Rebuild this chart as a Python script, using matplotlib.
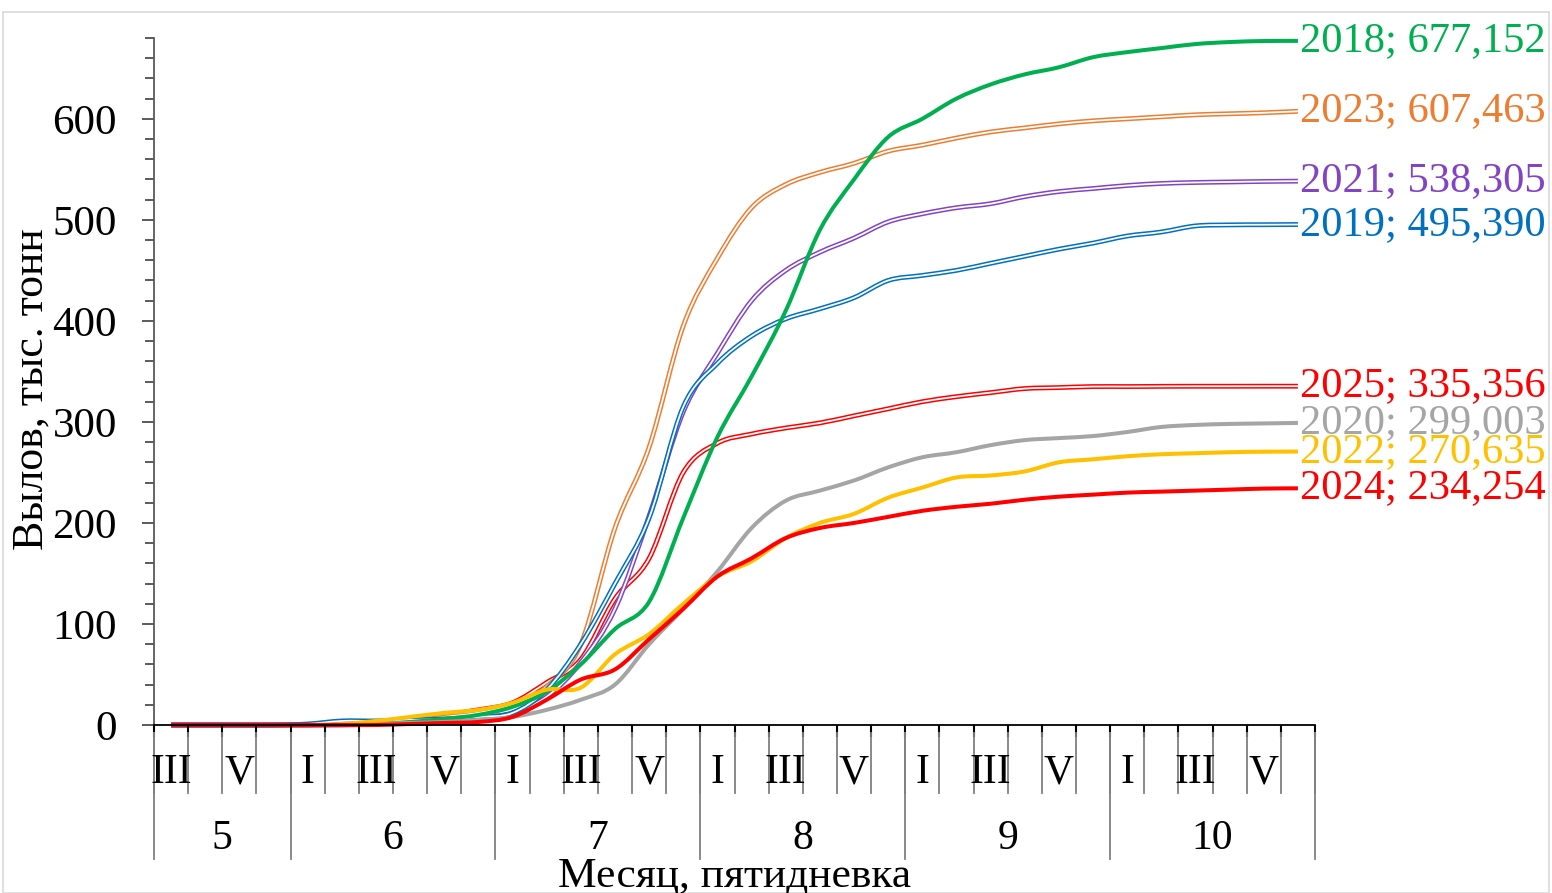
import numpy as np
import matplotlib
matplotlib.use('Agg')
import matplotlib.pyplot as plt
from matplotlib.path import Path
from matplotlib.patches import PathPatch, Rectangle
from matplotlib.transforms import blended_transform_factory, offset_copy

plt.rcParams['font.family'] = ['Liberation Serif', 'DejaVu Serif']

# категории: месяц и пятидневка
months = ['5', '6', '7', '8', '9', '10']
month_sizes = [4, 6, 6, 6, 6, 6]
pentads = ['III', 'IV', 'V', 'VI'] + ['I', 'II', 'III', 'IV', 'V', 'VI'] * 5

# накопленный вылов, тыс. тонн (по пятидневкам)
y2018 = [0, 0, 0, 0, 0, 0, 1, 3, 6, 10, 18, 33, 60, 95, 122, 205, 285, 345, 410, 490,
         540, 582, 600, 620, 634, 644, 651, 661, 666, 670, 674, 676, 677, 677.152]
y2019 = [0, 0, 0, 0, 1, 4, 4, 5, 6, 8, 12, 35, 80, 140, 205, 315, 358, 385, 402, 412,
         423, 440, 445, 450, 457, 464, 471, 477, 484, 488, 494, 495, 495.2, 495.390]
y2020 = [0, 0, 0, 0, 0, 0, 1, 2, 3, 5, 8, 15, 25, 40, 80, 115, 152, 195, 222, 232,
         242, 255, 265, 270, 277, 282, 284, 286, 290, 295, 297, 298, 298.5, 299.003]
y2021 = [0, 0, 0, 0, 0, 0, 1, 2, 4, 7, 12, 28, 62, 115, 207, 310, 368, 420, 450, 468,
         482, 498, 506, 512, 516, 523, 528, 531, 534, 536, 537, 537.5, 538, 538.305]
y2022 = [0, 0, 0, 0, 0, 1, 4, 8, 12, 15, 22, 35, 37, 70, 90, 120, 147, 162, 185, 200,
         209, 225, 235, 245, 247, 251, 260, 263, 266, 268, 269, 270, 270.5, 270.635]
y2023 = [0, 0, 0, 0, 0, 1, 2, 4, 8, 12, 20, 38, 80, 195, 275, 395, 462, 512, 535, 547,
         556, 568, 574, 581, 587, 591, 595, 598, 600, 602, 604, 605, 606, 607.463]
y2024 = [0, 0, 0, 0, 0, 0, 0, 1, 2, 3, 8, 25, 45, 55, 85, 115, 147, 165, 185, 195,
         200, 206, 212, 216, 219, 223, 226, 228, 230, 231, 232, 233, 234, 234.254]
y2025 = [0, 0, 0, 0, 0, 1, 2, 5, 10, 15, 22, 42, 65, 125, 165, 250, 279, 288, 294, 299,
         306, 313, 320, 325, 329, 333, 334, 335, 335, 335.2, 335.3, 335.3, 335.35, 335.356]

years = ['2025', '2023', '2021', '2019', '2018', '2020', '2022', '2024']
values = [y2025, y2023, y2021, y2019, y2018, y2020, y2022, y2024]
colors = ['#FF0000', '#ED7D31', '#8244C4', '#0070C0', '#00B050', '#A5A5A5', '#FFC000', '#FF0000']
double = [True, True, True, True, False, False, False, False]


def smooth_path(xs, ys):
    # сглаживание как в Excel: кривые Безье по соседним точкам
    pts = np.column_stack([xs, ys])
    n = len(pts)
    verts = [pts[0]]
    codes = [Path.MOVETO]
    for i in range(n - 1):
        p0 = pts[max(i - 1, 0)]
        p1 = pts[i]
        p2 = pts[i + 1]
        p3 = pts[min(i + 2, n - 1)]
        c1 = p1 + (p2 - p0) / 6.0
        c2 = p2 - (p3 - p1) / 6.0
        verts += [c1, c2, p2]
        codes += [Path.CURVE4] * 3
    return Path(verts, codes)


fig = plt.figure(figsize=(15.52, 8.93), dpi=100)
W, H = 1552, 893
ax = fig.add_axes([154 / W, 1 - 725 / H, (1315 - 154) / W, (725 - 38) / H])

fig.patches.append(Rectangle((3 / W, 0), 1546 / W, 1 - 12 / H, transform=fig.transFigure,
                             fill=False, edgecolor='#D9D9D9', linewidth=1.2))

x = np.arange(len(pentads))
for yr, v, c, d in zip(years, values, colors, double):
    path = smooth_path(x, v)
    if d:
        ax.add_patch(PathPatch(path, fill=False, edgecolor=c, lw=3.5, clip_on=False, capstyle='butt'))
        ax.add_patch(PathPatch(path, fill=False, edgecolor='white', lw=1.3, clip_on=False, capstyle='butt'))
    else:
        ax.add_patch(PathPatch(path, fill=False, edgecolor=c, lw=2.9, clip_on=False, capstyle='butt'))
    lab_tr = offset_copy(ax.transData, fig=fig, x=1.5, y=0, units='points')
    ax.text(x[-1], v[-1], f"{yr}; {v[-1]:.3f}".replace('.', ','), color=c, fontsize=30.6,
            ha='left', va='center', transform=lab_tr, clip_on=False)

ax.set_xlim(-0.5, len(pentads) - 0.5)
ax.set_ylim(0, 680)

ax.set_yticks(np.arange(0, 601, 100))
ax.set_yticks(np.arange(0, 681, 20), minor=True)
ax.tick_params(axis='y', which='major', length=8.6, width=1.2, color='#404040', labelsize=31, pad=18)
ax.tick_params(axis='y', which='minor', length=6.5, width=1.2, color='#404040')

bounds = np.arange(len(pentads) + 1) - 0.5
ax.set_xticks(bounds)
ax.set_xticklabels([])
ax.tick_params(axis='x', which='major', length=8.6, width=1.5, color='black')

for s in ['top', 'right']:
    ax.spines[s].set_visible(False)
ax.spines['left'].set_color('#595959')
ax.spines['left'].set_linewidth(1.3)
ax.spines['bottom'].set_color('black')
ax.spines['bottom'].set_linewidth(1.3)

# подписи категорий в два уровня
tr = blended_transform_factory(ax.transData, fig.transFigure)
month_edges = np.concatenate([[0], np.cumsum(month_sizes)]) - 0.5
for b in bounds:
    ax.plot([b, b], [1 - 733 / H, 1 - 793 / H], color='#808080', lw=1.3, transform=tr, clip_on=False)
for b in month_edges:
    ax.plot([b, b], [1 - 733 / H, 1 - 859 / H], color='#808080', lw=1.3, transform=tr, clip_on=False)
for i, p in enumerate(pentads):
    if i % 2 == 0:
        ax.text(i, 1 - 773 / H, p, fontsize=30, ha='center', va='center', transform=tr)
for m, a, b in zip(months, month_edges[:-1], month_edges[1:]):
    ax.text((a + b) / 2, 1 - 839 / H, m, fontsize=30, ha='center', va='center', transform=tr)

fig.text((154 + 1315) / 2 / W, 1 - 887 / H, 'Месяц, пятидневка', fontsize=31.3,
         ha='center', va='baseline')
fig.text(32 / W, 1 - 389 / H, 'Вылов, тыс. тонн', fontsize=31.5, rotation=90,
         ha='center', va='center')

fig.savefig('out.png', dpi=100)
